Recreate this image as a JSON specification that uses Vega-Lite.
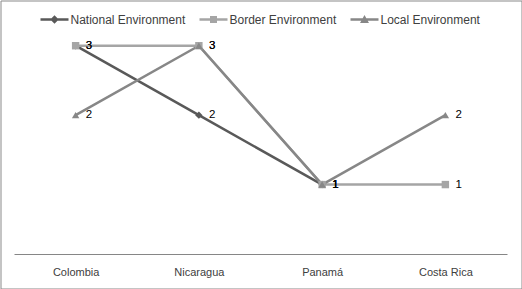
{
  "$schema": "https://vega.github.io/schema/vega-lite/v6.json",
  "width": 521,
  "height": 288,
  "autosize": {"type": "none"},
  "padding": {"left": 0.5, "top": 0.5, "right": 0.5, "bottom": 0.5},
  "background": "white",
  "config": {
    "view": {"stroke": "#898989", "strokeWidth": 1},
    "font": "Liberation Sans"
  },
  "data": {
    "values": [
      {"country": "Colombia", "series": "National Environment", "value": 3},
      {"country": "Nicaragua", "series": "National Environment", "value": 2},
      {"country": "Panamá", "series": "National Environment", "value": 1},
      {"country": "Colombia", "series": "Border Environment", "value": 3},
      {"country": "Nicaragua", "series": "Border Environment", "value": 3},
      {"country": "Panamá", "series": "Border Environment", "value": 1},
      {"country": "Costa Rica", "series": "Border Environment", "value": 1},
      {"country": "Colombia", "series": "Local Environment", "value": 2},
      {"country": "Nicaragua", "series": "Local Environment", "value": 3},
      {"country": "Panamá", "series": "Local Environment", "value": 1},
      {"country": "Costa Rica", "series": "Local Environment", "value": 2}
    ]
  },
  "encoding": {
    "x": {
      "field": "country",
      "type": "nominal",
      "sort": ["Colombia", "Nicaragua", "Panamá", "Costa Rica"],
      "scale": {"type": "point", "range": [13.5, 506.5], "padding": 0.5},
      "axis": {
        "title": null,
        "orient": "bottom",
        "offset": -34.5,
        "ticks": false,
        "grid": false,
        "domainColor": "#868686",
        "domainWidth": 1,
        "labelAngle": 0,
        "labelPadding": 12,
        "labelFontSize": 11,
        "labelColor": "#404040",
        "labelFont": "Liberation Sans"
      }
    },
    "y": {
      "field": "value",
      "type": "quantitative",
      "scale": {"domain": [0, 3.5], "range": [253.5, 10.5], "nice": false, "zero": false},
      "axis": null
    }
  },
  "layer": [
    {
      "mark": {"type": "line", "strokeWidth": 2.5},
      "encoding": {
        "color": {
          "field": "series",
          "type": "nominal",
          "scale": {
            "domain": ["National Environment", "Border Environment", "Local Environment"],
            "range": ["#595959", "#a5a5a5", "#878787"]
          },
          "legend": null
        },
        "strokeWidth": {
          "field": "series",
          "type": "nominal",
          "scale": {
            "domain": ["National Environment", "Border Environment", "Local Environment"],
            "range": [2.75, 2.25, 2.5]
          },
          "legend": null
        }
      }
    },
    {
      "mark": {"type": "point", "filled": true, "opacity": 1, "size": 55},
      "encoding": {
        "color": {
          "field": "series",
          "type": "nominal",
          "scale": {
            "domain": ["National Environment", "Border Environment", "Local Environment"],
            "range": ["#595959", "#a5a5a5", "#878787"]
          },
          "legend": null
        },
        "shape": {
          "field": "series",
          "type": "nominal",
          "scale": {
            "domain": ["National Environment", "Border Environment", "Local Environment"],
            "range": ["diamond", "square", "triangle-up"]
          },
          "legend": null
        }
      }
    },
    {
      "mark": {"type": "point", "filled": true, "opacity": 0, "size": 784},
      "encoding": {
        "color": {
          "field": "series",
          "type": "nominal",
          "scale": {
            "domain": ["National Environment", "Border Environment", "Local Environment"],
            "range": ["#595959", "#a5a5a5", "#878787"]
          },
          "legend": {
            "title": null,
            "orient": "none",
            "legendX": 40,
            "legendY": 5,
            "direction": "horizontal",
            "symbolSize": 784,
            "symbolOpacity": 1,
            "symbolStrokeWidth": 0,
            "labelFontSize": 12,
            "labelColor": "#404040",
            "labelFont": "Liberation Sans",
            "labelOffset": 2,
            "columnPadding": 14
          }
        },
        "shape": {
          "field": "series",
          "type": "nominal",
          "scale": {
            "domain": ["National Environment", "Border Environment", "Local Environment"],
            "range": [
              "M-1,-0.09H1V0.09H-1Z M-0.3,0L0,-0.3L0.3,0L0,0.3Z",
              "M-1,-0.09H1V0.09H-1Z M-0.25,-0.25H0.25V0.25H-0.25Z",
              "M-1,-0.09H1V0.09H-1Z M0,-0.32L0.32,0.25H-0.32Z"
            ]
          },
          "legend": {
            "title": null,
            "orient": "none",
            "legendX": 40,
            "legendY": 5,
            "direction": "horizontal",
            "symbolSize": 784,
            "symbolOpacity": 1,
            "symbolStrokeWidth": 0,
            "labelFontSize": 12,
            "labelColor": "#404040",
            "labelFont": "Liberation Sans",
            "labelOffset": 2,
            "columnPadding": 14
          }
        }
      }
    },
    {
      "mark": {"type": "text", "align": "left", "baseline": "middle", "dx": 10, "fontSize": 11.5, "color": "#000000", "font": "Liberation Sans"},
      "encoding": {
        "text": {"field": "value", "type": "quantitative"}
      }
    }
  ],
  "resolve": {"scale": {"color": "independent", "shape": "independent", "strokeWidth": "independent"}}
}
